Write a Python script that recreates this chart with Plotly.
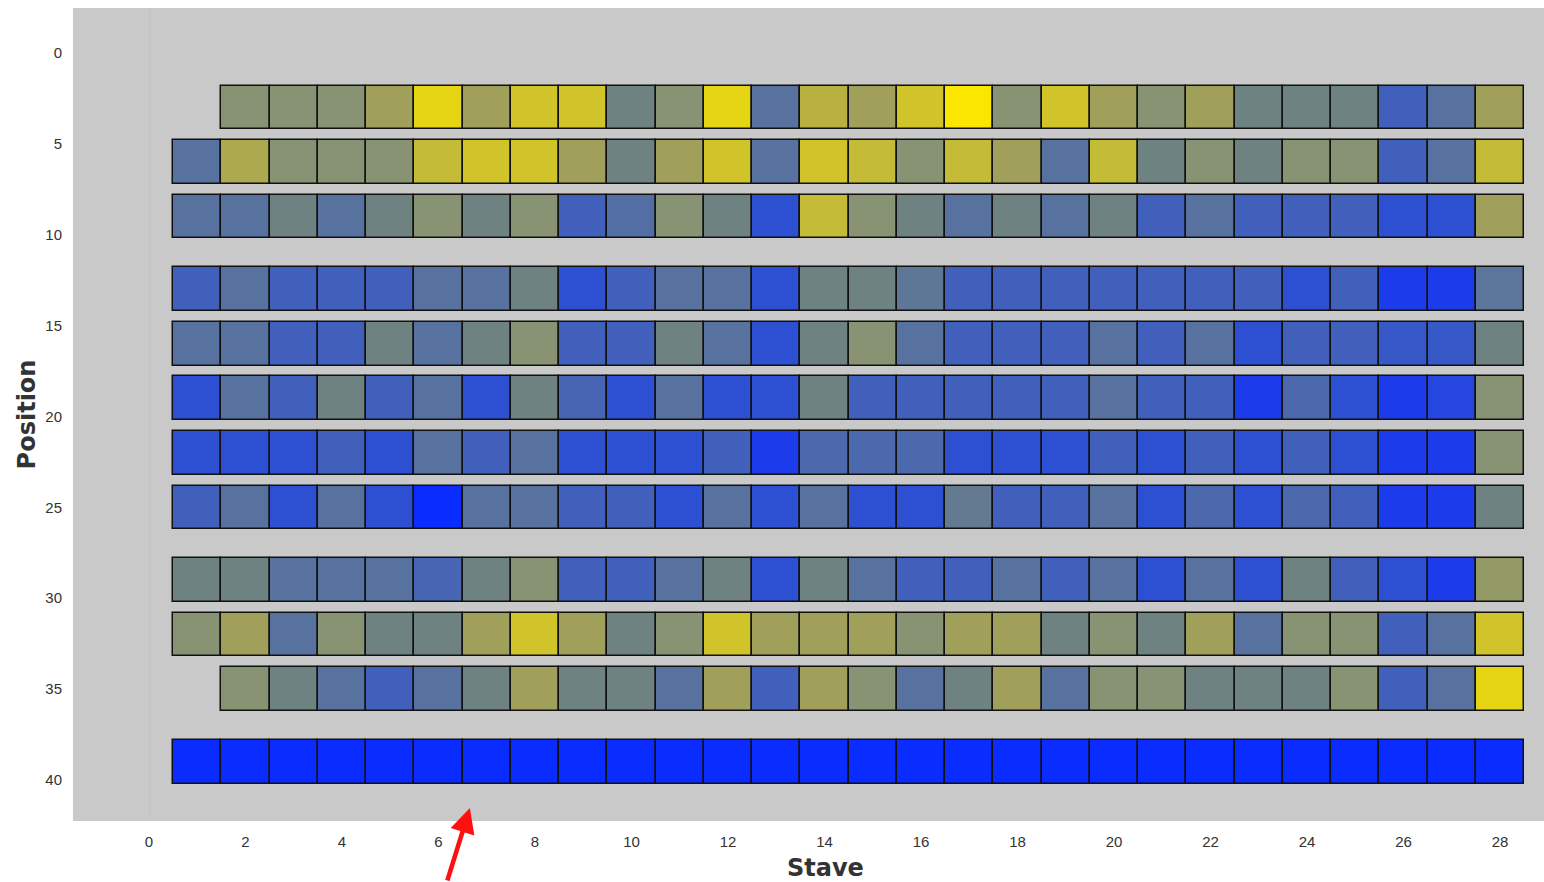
import plotly.graph_objects as go

# Stave numbers along the barrel
staves = list(range(1, 29))
staves_short = list(range(2, 29))

# Row positions (top to bottom)
positions = [3, 6, 9, 13, 16, 19, 22, 25, 29, 32, 35, 39]

# Cell values per row (0 = low / blue, 10 = high / yellow)
row_3 = [6, 6, 6, 7, 9.5, 7, 9, 9, 5, 6, 9.5, 4, 8, 7, 9, 10, 6, 9, 7, 6, 7, 5, 5, 5, 3, 4, 7]
row_6 = [4, 7.5, 6, 6, 6, 8.5, 9, 9, 7, 5, 7, 9, 4, 9, 8.5, 6, 8.5, 7, 4, 8.5, 5, 6, 5, 6, 6, 3, 4, 8.5]
row_9 = [4, 4, 5, 4, 5, 6, 5, 6, 3, 3.8, 6, 5, 2, 8.5, 6, 5, 4, 5, 4, 5, 3, 4, 3, 3, 3, 2, 2, 7]
row_13 = [3, 4, 3, 3, 3, 4, 4, 5, 2, 3, 4, 4, 2, 5, 5, 4.3, 3, 3, 3, 3, 3, 3, 3, 2, 3, 1, 1, 4.2]
row_16 = [4, 4, 3, 3, 5, 4, 5, 6, 3, 3, 5, 4, 2, 5, 6, 4, 3, 3, 3, 4, 3, 4, 2, 3, 3, 2.5, 2.5, 5]
row_19 = [2, 4, 3, 5, 3, 4, 2, 5, 3.3, 2, 4, 2, 2, 5, 3, 3, 3, 3, 3, 4, 3, 3, 1, 3.5, 2, 1, 1.5, 6]
row_22 = [2, 2, 2, 3, 2, 4, 3, 4, 2, 2, 2, 3, 1, 3.5, 3.5, 3.5, 2, 2, 2, 3, 2, 3, 2, 3, 2, 1, 1, 6]
row_25 = [3, 4, 2, 4, 2, 0, 4, 4, 3, 3, 2, 4, 2, 4, 2, 2, 4.5, 3, 3, 4, 2, 3.5, 2, 3.5, 3, 1, 1, 5]
row_29 = [5, 5, 4, 4, 4, 3.3, 5, 6, 3, 3, 4, 5, 2, 5, 4, 3, 3, 4, 3, 4, 2, 4, 2, 5, 3, 2, 1, 6.5]
row_32 = [6, 7, 4, 6, 5, 5, 7, 9, 7, 5, 6, 9, 7, 7, 7, 6, 7, 7, 5, 6, 5, 7, 4, 6, 6, 3, 4, 9]
row_35 = [6, 5, 4, 3, 4, 5, 7, 5, 5, 4, 7, 3, 7, 6, 4, 5, 7, 4, 6, 6, 5, 5, 5, 6, 3, 4, 9.5]
row_39 = [0] * 28

rows = [
    (3, staves_short, row_3),
    (6, staves, row_6),
    (9, staves, row_9),
    (13, staves, row_13),
    (16, staves, row_16),
    (19, staves, row_19),
    (22, staves, row_22),
    (25, staves, row_25),
    (29, staves, row_29),
    (32, staves, row_32),
    (35, staves_short, row_35),
    (39, staves, row_39),
]

x_ticks = list(range(0, 29, 2))
y_ticks = list(range(0, 41, 5))

colorscale = [
    [0.0, "#0a2cff"],
    [0.1, "#1c3ceb"],
    [0.2, "#2d4fd2"],
    [0.3, "#4060bb"],
    [0.4, "#5872a0"],
    [0.5, "#6e8282"],
    [0.6, "#879372"],
    [0.7, "#a0a05a"],
    [0.8, "#b8b142"],
    [0.9, "#d0c42a"],
    [1.0, "#fbe600"],
]

cell_h = 2.4

fig = go.Figure()
for pos, xs, vals in rows:
    fig.add_trace(go.Bar(
        x=xs,
        y=[cell_h] * len(xs),
        base=[pos - cell_h / 2] * len(xs),
        width=1,
        marker=dict(
            color=vals,
            colorscale=colorscale,
            cmin=0,
            cmax=10,
            line=dict(color="#111111", width=1.5),
        ),
        showlegend=False,
        hoverinfo="x+text",
        text=[str(v) for v in vals],
        textposition="none",
    ))

tick_font = dict(family="Liberation Sans, Arial, sans-serif", size=15, color="#333333")
title_font = dict(family="DejaVu Sans, Verdana, sans-serif", size=24, color="#333333", weight="bold")

fig.update_layout(
    width=1544,
    height=882,
    margin=dict(l=73, r=0, t=8, b=61),
    paper_bgcolor="white",
    plot_bgcolor="#c9c9c9",
    barmode="overlay",
    bargap=0,
    xaxis=dict(
        range=[-1.575, 28.91],
        tickvals=x_ticks,
        ticks="",
        showgrid=False,
        zeroline=True,
        zerolinecolor="#c4c4c4",
        zerolinewidth=1,
        tickfont=tick_font,
        ticklabelstandoff=10,
        showline=False,
    ),
    yaxis=dict(
        range=[42.26, -2.476],
        tickvals=y_ticks,
        ticks="",
        showgrid=False,
        zeroline=False,
        tickfont=tick_font,
        ticklabelstandoff=10,
        showline=False,
        title=dict(text="Position", font=title_font, standoff=2),
    ),
    annotations=[
        dict(
            x=14.03, y=-0.0575, xref="x", yref="paper",
            text="Stave", showarrow=False,
            font=title_font,
            yanchor="middle",
        ),
        dict(
            x=6.65, y=41.55, xref="x", yref="y",
            text="", showarrow=True,
            arrowhead=2, arrowsize=1.1, arrowwidth=4.5,
            arrowcolor="#ff1010",
            ax=-23, ay=80,
        ),
    ],
)

fig.write_html("out.html")
